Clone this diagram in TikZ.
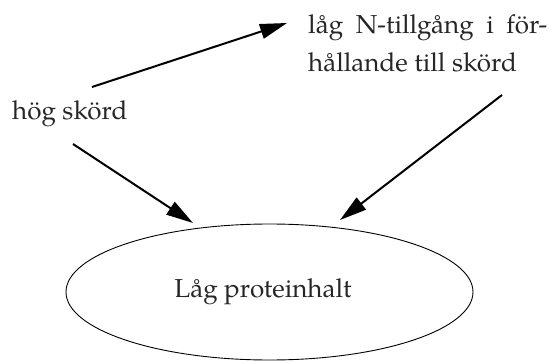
\documentclass[tikz,border=0pt]{standalone}
\usepackage{fontspec}
\setmainfont{TeX Gyre Pagella}
\usetikzlibrary{arrows.meta,shapes.geometric}
\begin{document}
\begin{tikzpicture}[x=1pt,y=-1pt,
  lbl/.style={inner sep=0pt,font=\fontsize{26}{39}\selectfont,text=black!85},
  conn/.style={line width=2pt,-{Triangle[length=27pt,width=15pt]}},
  oval/.style={ellipse,draw,line width=0.9pt,minimum width=407pt,minimum height=136pt,inner sep=0pt}]
\useasboundingbox (0,0) rectangle (560,361);
\node[lbl,anchor=base west] (hog) at (12,119) {hög skörd};
\node[lbl,anchor=base west,align=left] (lag) at (308,72)
  {\makebox[239pt][s]{låg N-tillgång i för-}\\hållande till skörd};
\node[oval,lbl] (prot) at (269.5,292) {Låg proteinhalt\hspace*{13pt}};
\coordinate (h1) at (92,87);
\coordinate (l1) at (287,23);
\coordinate (h2) at (73,144);
\coordinate (p1) at (193,223);
\coordinate (l2) at (502,95);
\coordinate (p2) at (340,220);
\draw[conn] (h1) -- (l1);
\draw[conn] (h2) -- (p1);
\draw[conn] (l2) -- (p2);
\end{tikzpicture}
\end{document}
